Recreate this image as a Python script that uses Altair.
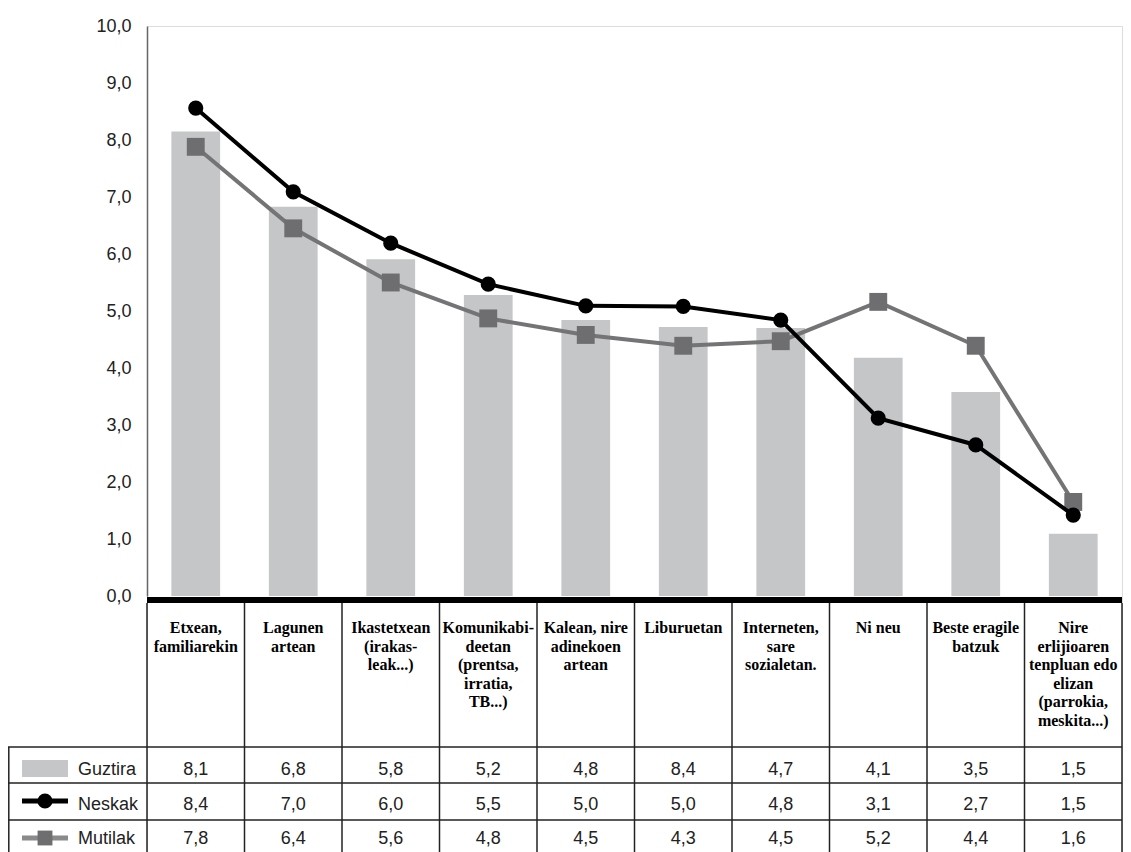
import altair as alt
import pandas as pd

# ---------------- data ----------------
categories = [
    "Etxean, familiarekin", "Lagunen artean", "Ikastetxean", "Komunikabideetan",
    "Kalean", "Liburuetan", "Interneten", "Ni neu", "Beste eragile batzuk", "Nire erlijioaren",
]
header_labels = [
    "Etxean,\nfamiliarekin",
    "Lagunen\nartean",
    "Ikastetxean\n(irakas-\nleak...)",
    "Komunikabi-\ndeetan\n(prentsa,\nirratia,\nTB...)",
    "Kalean, nire\nadinekoen\nartean",
    "Liburuetan",
    "Interneten,\nsare\nsozialetan.",
    "Ni neu",
    "Beste eragile\nbatzuk",
    "Nire\nerlijioaren\ntenpluan edo\nelizan\n(parrokia,\nmeskita...)",
]
# values as drawn in the plot
guztira = [8.15, 6.83, 5.91, 5.28, 4.84, 4.72, 4.70, 4.18, 3.58, 1.09]
neskak = [8.56, 7.09, 6.19, 5.47, 5.09, 5.08, 4.84, 3.12, 2.65, 1.42]
mutilak = [7.88, 6.45, 5.50, 4.87, 4.58, 4.39, 4.47, 5.16, 4.39, 1.65]
# values as printed in the table
guztira_txt = ["8,1", "6,8", "5,8", "5,2", "4,8", "8,4", "4,7", "4,1", "3,5", "1,5"]
neskak_txt = ["8,4", "7,0", "6,0", "5,5", "5,0", "5,0", "4,8", "3,1", "2,7", "1,5"]
mutilak_txt = ["7,8", "6,4", "5,6", "4,8", "4,5", "4,3", "4,5", "5,2", "4,4", "1,6"]
series_names = ["Guztira", "Neskak", "Mutilak"]

df = pd.DataFrame({
    "cat": categories,
    "header": header_labels,
    "guztira": guztira,
    "neskak": neskak,
    "mutilak": mutilak,
    "g_txt": guztira_txt,
    "n_txt": neskak_txt,
    "m_txt": mutilak_txt,
})
one = alt.Data(values=[{"k": 0}])

# ---------------- styles ----------------
W, H = 975, 826
SANS = "Liberation Sans Narrow, Liberation Sans, Arial Narrow, sans-serif"
SERIF = "Liberation Serif, Times New Roman, serif"
BAR = "#c5c6c8"
GRAY = "#747476"
TXT = "#222222"

xsc = alt.Scale(paddingInner=0.5, paddingOuter=0.25)
X = alt.X("cat:N", sort=categories, scale=xsc, axis=None)
ysc = alt.Scale(domain=[0, 10], range=[570, 0], nice=False, zero=True)
yaxis = alt.Axis(
    values=list(range(11)),
    labelExpr="replace(format(datum.value, '.1f'), '.', ',')",
    ticks=False, grid=False, domainColor="#666666", domainWidth=1.5,
    labelFont=SANS, labelFontSize=18, labelColor=TXT, labelPadding=16, title=None,
)

base = alt.Chart(df)

bars = base.mark_bar(color=BAR).encode(
    x=X, y=alt.Y("guztira:Q", scale=ysc, axis=yaxis)
)
mut_line = base.mark_line(color=GRAY, strokeWidth=4).encode(
    x=X, y=alt.Y("mutilak:Q", scale=ysc, axis=yaxis)
)
mut_pts = base.mark_point(shape="square", filled=True, opacity=1, size=320, color="#6e6e70").encode(
    x=X, y=alt.Y("mutilak:Q", scale=ysc, axis=yaxis)
)
nes_line = base.mark_line(color="black", strokeWidth=4).encode(
    x=X, y=alt.Y("neskak:Q", scale=ysc, axis=yaxis)
)
nes_pts = base.mark_point(shape="circle", filled=True, opacity=1, size=230, color="black").encode(
    x=X, y=alt.Y("neskak:Q", scale=ysc, axis=yaxis)
)

# ---------------- table ----------------
thick = alt.Chart(one).mark_rule(color="black", strokeWidth=6).encode(
    x=alt.value(0), x2=alt.value(W), y=alt.value(574)
)
col_lines = base.mark_rule(color=TXT, strokeWidth=1.5, xOffset=-24.375).encode(
    x=alt.X("cat:N", sort=categories, scale=xsc, axis=None, bandPosition=0),
    y=alt.value(577), y2=alt.value(H),
)
right_line = alt.Chart(one).mark_rule(color=TXT, strokeWidth=1.5).encode(
    x=alt.value(W), y=alt.value(577), y2=alt.value(H)
)
left_line = alt.Chart(one).mark_rule(color=TXT, strokeWidth=1.5).encode(
    x=alt.value(-138.2), y=alt.value(721), y2=alt.value(H)
)
row_lines = [
    alt.Chart(one).mark_rule(color=TXT, strokeWidth=1.5).encode(
        x=alt.value(-139), x2=alt.value(W), y=alt.value(yy)
    )
    for yy in (721, 757, 794)
]

headers = base.mark_text(
    baseline="top", align="center", lineBreak="\n", font=SERIF, fontWeight="bold",
    fontSize=16, lineHeight=18.5, color="black",
).encode(x=X, y=alt.value(594), text="header:N")

val_rows = [
    base.mark_text(baseline="middle", align="center", font=SANS, fontSize=18, color=TXT).encode(
        x=X, y=alt.value(yy), text=f"{fld}:N"
    )
    for fld, yy in (("g_txt", 744), ("n_txt", 779), ("m_txt", 813))
]

# legend column
leg_rect = alt.Chart(one).mark_rect(color=BAR).encode(
    x=alt.value(-125), x2=alt.value(-79), y=alt.value(734), y2=alt.value(751)
)
leg_nes_line = alt.Chart(one).mark_rule(color="black", strokeWidth=5).encode(
    x=alt.value(-125), x2=alt.value(-79), y=alt.value(775)
)
leg_nes_pt = alt.Chart(one).mark_point(shape="circle", filled=True, opacity=1, size=230, color="black").encode(
    x=alt.value(-102), y=alt.value(775)
)
leg_mut_line = alt.Chart(one).mark_rule(color="#8a8a8c", strokeWidth=5).encode(
    x=alt.value(-125), x2=alt.value(-79), y=alt.value(812)
)
leg_mut_pt = alt.Chart(one).mark_point(shape="square", filled=True, opacity=1, size=220, color="#6e6e70").encode(
    x=alt.value(-102), y=alt.value(812)
)
leg_df = pd.DataFrame({"name": series_names, "ypos": [744, 779, 813]})
leg_text = alt.Chart(leg_df).mark_text(
    align="left", baseline="middle", font=SANS, fontSize=18, color=TXT
).encode(x=alt.value(-69), y=alt.Y("ypos:Q", scale=None), text="name:N")

chart = alt.layer(
    bars, mut_line, mut_pts, nes_line, nes_pts,
    thick, col_lines, right_line, left_line, *row_lines,
    headers, *val_rows,
    leg_rect, leg_nes_line, leg_nes_pt, leg_mut_line, leg_mut_pt, leg_text,
).properties(
    width=W, height=H,
    autosize=alt.AutoSizeParams(type="none"),
    padding={"left": 139, "top": 18, "right": 1, "bottom": 0},
).configure_view(stroke=None).configure(background="white")

chart.save("out.html", embed_options={"renderer": "svg", "actions": False})
